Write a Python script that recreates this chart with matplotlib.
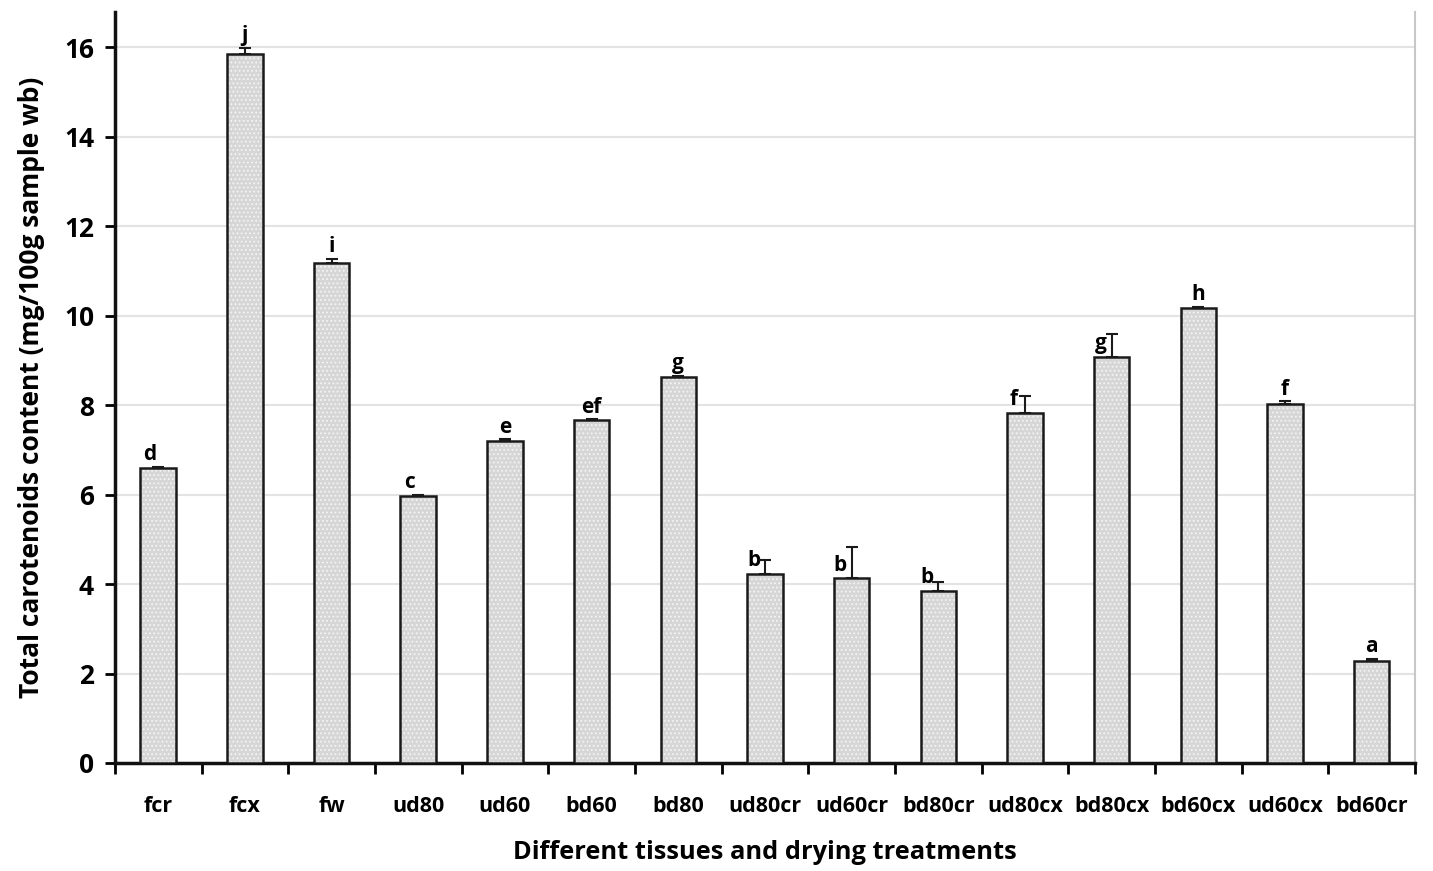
import matplotlib
matplotlib.use("Agg")
import matplotlib.pyplot as plt
import numpy as np

# Treatments and measured total carotenoids (mg/100 g sample, wet basis)
treatments = ["fcr", "fcx", "fw", "ud80", "ud60", "bd60", "bd80",
              "ud80cr", "ud60cr", "bd80cr", "ud80cx", "bd80cx",
              "bd60cx", "ud60cx", "bd60cr"]
carotenoids = [6.59, 15.84, 11.18, 5.97, 7.20, 7.66, 8.63,
               4.22, 4.13, 3.84, 7.82, 9.07, 10.17, 8.02, 2.28]
std_err = [0.03, 0.14, 0.08, 0.03, 0.03, 0.02, 0.03,
           0.32, 0.70, 0.20, 0.38, 0.52, 0.02, 0.06, 0.04]
letters = ["d", "j", "i", "c", "e", "ef", "g",
           "b", "b", "b", "f", "g", "h", "f", "a"]

plt.rcParams["font.family"] = ["Open Sans", "DejaVu Sans"]
plt.rcParams["font.weight"] = "bold"
plt.rcParams["hatch.linewidth"] = 0.8

fig = plt.figure(figsize=(14.33, 8.71), dpi=100)
ax = fig.add_axes([0.0802, 0.124, 0.9072, 0.862])

x = np.arange(len(treatments))
# dotted light-grey fill, then the dark outline on top
ax.bar(x, carotenoids, width=0.41, color="#d6d6d6", edgecolor="#f4f4f4",
       linewidth=0, hatch="....", zorder=3)
ax.bar(x, carotenoids, width=0.41, fill=False, edgecolor="#1a1a1a",
       linewidth=1.8, zorder=3.5)
ax.errorbar(x, carotenoids, yerr=[np.zeros(len(std_err)), std_err],
            fmt="none", ecolor="#1a1a1a", elinewidth=1.5, capsize=4,
            capthick=1.5, zorder=4)

# significance letters: beside the error bar when it is long, else above it
for xi, v, e, lab in zip(x, carotenoids, std_err, letters):
    if e > 0.15 and lab != "j":
        ax.text(xi - 0.13, v + 0.06, lab, ha="center", va="bottom",
                fontsize=15, fontweight="bold")
    else:
        ax.text(xi - (0.1 if lab in ("d", "c") else 0.0), v + e + 0.04, lab,
                ha="center", va="bottom", fontsize=15, fontweight="bold")

ax.set_xlim(-0.5, len(treatments) - 0.5)
ax.set_ylim(0, 16.78)
ax.set_yticks(np.arange(0, 17, 2))
ax.yaxis.grid(True, color="#e3e3e3", linewidth=1.5, zorder=0)
ax.set_axisbelow(True)

ax.set_xticks(x)
ax.set_xticklabels(treatments, fontsize=15.5, fontweight="bold")
ax.tick_params(axis="x", length=0, pad=24)
ax.set_xticks(np.arange(-0.5, len(treatments), 1.0), minor=True)
ax.tick_params(axis="x", which="minor", length=8, width=2, direction="out")
ax.tick_params(axis="y", length=7, width=2, direction="out",
               labelsize=19, pad=8)
for lab in ax.get_yticklabels():
    lab.set_fontweight("bold")

for side in ("left", "bottom"):
    ax.spines[side].set_linewidth(2.5)
    ax.spines[side].set_color("#111111")
ax.spines["top"].set_visible(False)
ax.spines["right"].set_color("#c8c8c8")
ax.spines["right"].set_linewidth(1.5)

ax.set_xlabel("Different tissues and drying treatments", fontsize=18.3,
              fontweight="bold", labelpad=16)
ax.set_ylabel("Total carotenoids content (mg/100g sample wb)", fontsize=19,
              fontweight="bold", labelpad=14)

fig.savefig("out.png", dpi=100, facecolor="white")
